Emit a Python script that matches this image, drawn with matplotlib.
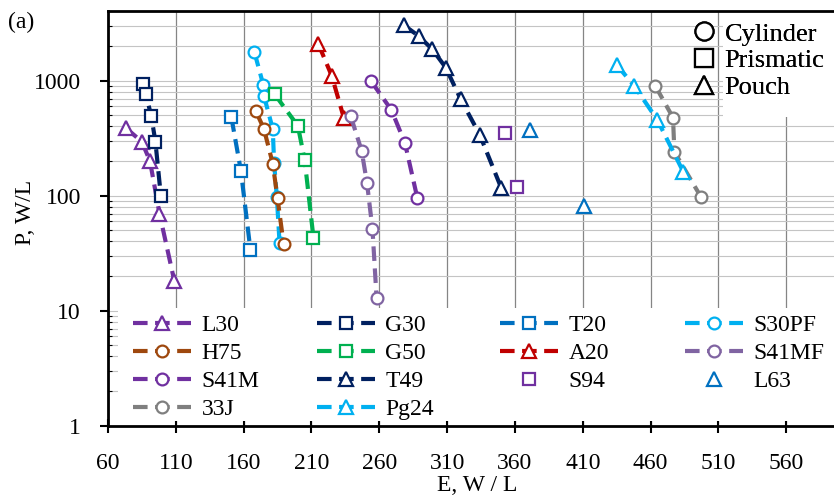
import matplotlib
matplotlib.use("Agg")
import matplotlib.pyplot as plt
from matplotlib.lines import Line2D
from matplotlib.patches import Rectangle
from matplotlib.ticker import LogLocator, NullFormatter

plt.rcParams['font.family'] = ['Liberation Serif', 'DejaVu Serif']

# Energy density E (W·h/L) and power density P (W/L)
L30_E = [73, 85, 91, 98, 109]
L30_P = [390, 295, 200, 70, 18]
G30_E = [86, 88, 92, 95, 99]
G30_P = [930, 760, 490, 295, 100]
T20_E = [151, 158, 165]
T20_P = [480, 165, 34]
S30PF_E = [168, 174.5, 175, 181.5, 182.5, 184.5, 186.5]
S30PF_P = [1770, 920, 740, 380, 192, 97, 39]
H75_E = [169, 175, 181.5, 185, 189.5]
H75_P = [545, 380, 190, 95, 38]
G50_E = [183, 200, 205, 211.5]
G50_P = [760, 405, 205, 43]
A20_E = [215, 225, 234]
A20_P = [2100, 1100, 470]
S41MF_E = [239, 247, 251, 255, 258]
S41MF_P = [490, 246, 128, 51, 13]
S41M_E = [254, 269, 279, 288]
S41M_P = [990, 555, 285, 96]
T49_E = [278, 289, 299, 309, 320, 334, 350]
T49_P = [3050, 2450, 1880, 1300, 690, 340, 116]
S94_E = [353, 361.5]
S94_P = [353, 118]
L63_E = [371, 411]
L63_P = [373, 81]
J33_E = [463.5, 476.5, 477.5, 497]
J33_P = [900, 477, 241, 98]
Pg24_E = [435, 448, 465, 484]
Pg24_P = [1370, 900, 455, 162]

x_ticks = [60, 110, 160, 210, 260, 310, 360, 410, 460, 510, 560]
y_ticks = [1, 10, 100, 1000]
y_tick_labels = ["1", "10", "100", "1000"]
cell_types = ["Cylinder", "Prismatic", "Pouch"]

# name, E, P, colour, marker, dashed line
series = [
    ("L30", L30_E, L30_P, "#7030A0", "^", True),
    ("G30", G30_E, G30_P, "#002060", "s", True),
    ("T20", T20_E, T20_P, "#0070C0", "s", True),
    ("S30PF", S30PF_E, S30PF_P, "#00B0F0", "o", True),
    ("H75", H75_E, H75_P, "#9E480E", "o", True),
    ("G50", G50_E, G50_P, "#00B050", "s", True),
    ("A20", A20_E, A20_P, "#C00000", "^", True),
    ("S41MF", S41MF_E, S41MF_P, "#8064A2", "o", True),
    ("S41M", S41M_E, S41M_P, "#7030A0", "o", True),
    ("T49", T49_E, T49_P, "#002060", "^", True),
    ("S94", S94_E, S94_P, "#7030A0", "s", False),
    ("L63", L63_E, L63_P, "#0070C0", "^", False),
    ("33J", J33_E, J33_P, "#7F7F7F", "o", True),
    ("Pg24", Pg24_E, Pg24_P, "#00B0F0", "^", True),
]

fig = plt.figure(figsize=(8.34, 4.95), dpi=100)
ax = fig.add_axes([0.1294, 0.140, 0.885, 0.8368])

handles = []
for name, e, p, c, m, dashed in series:
    ls = (0, (3.5, 1.8)) if dashed else "none"
    ms = 10 if m == "^" else 8.5
    line, = ax.plot(e, p, color=c, lw=3, linestyle=ls, marker=m, ms=ms,
                    mfc="white", mec=c, mew=1.6, label=name)
    handles.append(line)

ax.set_yscale("log")
ax.set_xlim(60, 604)
ax.set_ylim(1, 4000)
ax.set_xticks(x_ticks)
ax.set_yticks(y_ticks)
ax.set_yticklabels(y_tick_labels)
ax.yaxis.set_minor_locator(LogLocator(base=10, subs=range(2, 10)))
ax.yaxis.set_minor_formatter(NullFormatter())

ax.set_axisbelow(True)
ax.xaxis.grid(True, which="major", color="#858585", lw=0.9)
ax.yaxis.grid(True, which="both", color="#c4c4c4", lw=0.8)

for s in ["left", "bottom", "top"]:
    ax.spines[s].set_linewidth(2)
ax.spines["right"].set_visible(False)

ax.tick_params(axis="x", which="major", direction="inout", length=10, width=1.5,
               labelsize=17, pad=15)
ax.tick_params(axis="y", which="major", direction="out", length=6, width=1.5,
               labelsize=17, pad=13.5)
ax.tick_params(axis="y", which="minor", direction="in", length=3, width=0.8)

# white boxes behind the legends
ax.add_patch(Rectangle((0.0137, 0.011), 1.0, 0.273, transform=ax.transAxes,
                       facecolor="white", edgecolor="none", zorder=1))
ax.add_patch(Rectangle((0.8333, 0.7453), 0.2, 0.26, transform=ax.transAxes,
                       facecolor="white", edgecolor="none", zorder=1))

# bottom legend, one column at a time (Excel row-wise order)
col_x = [0.0340, 0.2833, 0.5312, 0.7819]
for col in range(4):
    hs = handles[col::4]
    leg = ax.legend(handles=hs, labels=[h.get_label() for h in hs],
                    loc="upper left", bbox_to_anchor=(col_x[col], 0.2690),
                    frameon=False, fontsize=17, handlelength=2.45,
                    handletextpad=0.45, labelspacing=0.28, borderpad=0,
                    borderaxespad=0, numpoints=1)
    ax.add_artist(leg)

# cell type legend
type_handles = [Line2D([], [], ls="none", marker=m, ms=13, mfc="white",
                       mec="black", mew=1.6) for m in ["o", "s", "^"]]
leg2 = ax.legend(handles=type_handles, labels=cell_types, loc="upper left",
                 bbox_to_anchor=(0.7907, 0.9740), frameon=False, fontsize=19,
                 handlelength=0.95, handletextpad=0.3, labelspacing=0.12,
                 borderpad=0, borderaxespad=0, numpoints=1)
ax.add_artist(leg2)

fig.text(8 / 834, 0.9556, "(a)", fontsize=17, va="center", ha="left")
fig.text(0.572, 0.0202, "E, W / L", fontsize=17, va="center", ha="center")
fig.text(0.030, 0.570, "P, W/L", fontsize=17, va="center", ha="center",
         rotation=90)

fig.savefig("out.png", dpi=100)
